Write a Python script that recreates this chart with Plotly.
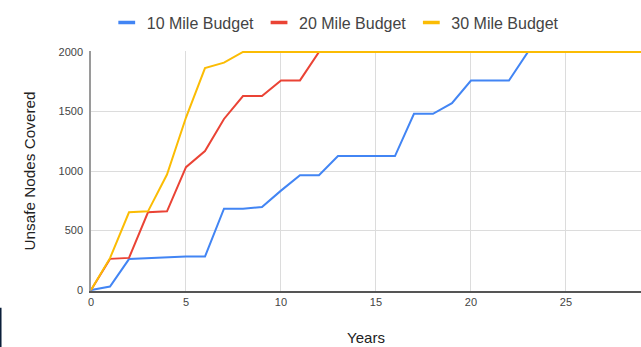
import plotly.graph_objects as go

years = list(range(0, 31))
budget_10 = [0, 30, 260, 267, 270, 281, 281, 683, 683, 698, 835, 965, 965, 1125, 1125, 1125, 1125,
             1480, 1480, 1570, 1760, 1760, 1760, 2000, 2000, 2000, 2000, 2000, 2000, 2000, 2000]
budget_20 = [0, 262, 270, 653, 661, 1032, 1167, 1437, 1629, 1629, 1761, 1761, 2000, 2000, 2000, 2000,
             2000, 2000, 2000, 2000, 2000, 2000, 2000, 2000, 2000, 2000, 2000, 2000, 2000, 2000, 2000]
budget_30 = [0, 268, 653, 661, 970, 1449, 1865, 1910, 2000, 2000, 2000, 2000, 2000, 2000, 2000, 2000,
             2000, 2000, 2000, 2000, 2000, 2000, 2000, 2000, 2000, 2000, 2000, 2000, 2000, 2000, 2000]
series_names = ["10 Mile Budget", "20 Mile Budget", "30 Mile Budget"]
series_colors = ["#4285F4", "#EA4335", "#FBBC04"]
x_ticks = [0, 5, 10, 15, 20, 25]
y_ticks = [0, 500, 1000, 1500, 2000]

FONT = "Liberation Sans, Arial, sans-serif"

fig = go.Figure()
for name, vals, col in zip(series_names, [budget_10, budget_20, budget_30], series_colors):
    fig.add_trace(go.Scatter(x=years, y=vals, mode="lines", name=name,
                             line=dict(color=col, width=2), showlegend=False))
for name, col in zip(series_names, series_colors):
    fig.add_trace(go.Scatter(x=[None], y=[None], mode="markers", name=name,
                             marker=dict(symbol="line-ew", size=12,
                                         line=dict(color=col, width=3.5))))

fig.update_layout(
    width=641, height=347,
    margin=dict(l=91, r=0, t=51, b=56),
    paper_bgcolor="white", plot_bgcolor="white",
    font=dict(family=FONT, color="#444444"),
    legend=dict(orientation="h", xref="container", yref="container",
                x=0.523, xanchor="center", y=0.935, yanchor="middle",
                font=dict(size=16, color="#444444"), itemwidth=30,
                tracegroupgap=0, bgcolor="rgba(0,0,0,0)"),
    xaxis=dict(range=[0, 28.95], tickvals=x_ticks, showgrid=True, gridcolor="#dcdcdc",
               gridwidth=1, zeroline=False, showline=True, linecolor="#555555", linewidth=1.5,
               ticks="", tickfont=dict(size=11, color="#444444"),
               title=dict(text="Years", font=dict(size=15, color="#222222"), standoff=26)),
    yaxis=dict(range=[-8, 2008], tickvals=y_ticks, showgrid=True, gridcolor="#dcdcdc",
               gridwidth=1, zeroline=False, showline=True, linecolor="#9a9a9a", linewidth=1.5,
               ticks="", tickfont=dict(size=11, color="#444444"), ticklabelstandoff=4,
               title=dict(text="Unsafe Nodes Covered", font=dict(size=15.3, color="#222222"),
                          standoff=19)),
    shapes=[dict(type="line", xref="paper", yref="paper", x0=-0.1645, x1=-0.1645,
                 y0=-0.07, y1=-0.24, line=dict(color="#0b1f3a", width=2))],
)

fig.write_html("out.html")
